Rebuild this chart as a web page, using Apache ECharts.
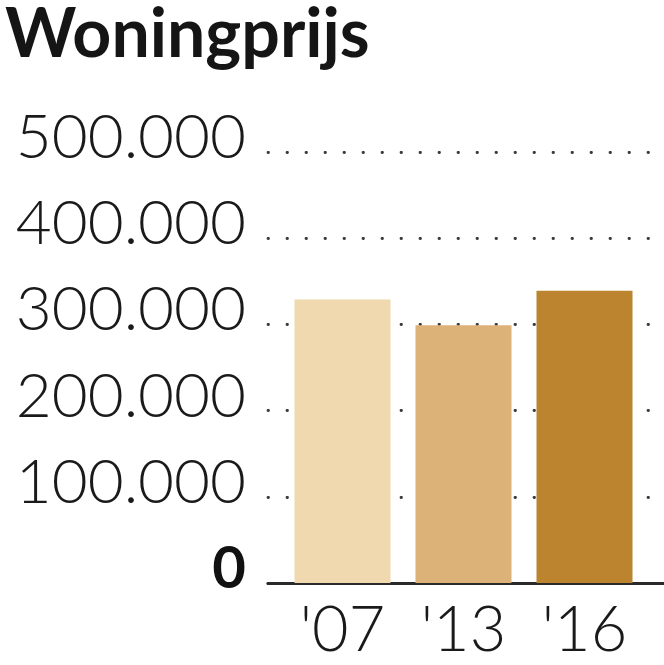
<!DOCTYPE html>
<html>
<head>
<meta charset="utf-8">
<script src="https://cdn.jsdelivr.net/npm/echarts@6/dist/echarts.min.js"></script>
<style>
  html, body { margin: 0; padding: 0; background: #fff; }
  #chart { width: 664px; height: 665px; }
</style>
</head>
<body>
<div id="chart"></div>
<script>
// data
const categories = ["'07", "'13", "'16"];
const prices = [329000, 299000, 339000];
const barColors = ['#f0d9ae', '#dcb278', '#bc842e'];
const yTicks = [0, 100000, 200000, 300000, 400000, 500000];

const yMax = yTicks[yTicks.length - 1];
const yStep = yTicks[1] - yTicks[0];
const font = 'Lato, "Open Sans", sans-serif';

const fmt = (v) => v === 0 ? '{z|0}' : String(v).replace(/\B(?=(\d{3})+(?!\d))/g, '.');

const chart = echarts.init(document.getElementById('chart'), null, { renderer: 'canvas' });

chart.setOption({
  animation: false,
  backgroundColor: '#fff',
  title: {
    text: 'Woningprijs',
    left: 0,
    top: -4,
    textStyle: { fontFamily: font, fontWeight: 'bold', fontSize: 68, color: '#151515' }
  },
  grid: [
    // wide grid: y labels, dotted lines, base line
    { left: 268, right: 0, top: 152, bottom: 82 },
    // bar grid
    { left: 282, right: 19, top: 152, bottom: 82 }
  ],
  xAxis: [
    {
      gridIndex: 0, type: 'value', min: 0, max: 1,
      axisLine: { show: true, lineStyle: { color: '#2a2a2a', width: 3 } },
      axisTick: { show: false }, axisLabel: { show: false }, splitLine: { show: false }
    },
    {
      gridIndex: 1, type: 'category', data: categories,
      axisLine: { show: false }, axisTick: { show: false },
      axisLabel: {
        margin: 16, fontFamily: font, fontWeight: 300, fontSize: 63, color: '#1a1a1a'
      }
    }
  ],
  yAxis: [
    {
      gridIndex: 0, type: 'value', min: 0, max: yMax, interval: yStep,
      axisLine: { show: false }, axisTick: { show: false },
      axisLabel: {
        margin: 22, fontFamily: font, fontWeight: 300, fontSize: 62, color: '#1a1a1a',
        padding: [0, 0, 28, 0],
        formatter: fmt,
        rich: { z: { fontFamily: font, fontWeight: 'bold', fontSize: 58, color: '#111' } }
      },
      splitLine: {
        show: true,
        lineStyle: { color: '#3a3a3a', width: 2.8, type: [0.5, 18.5], cap: 'round' }
      }
    },
    {
      gridIndex: 1, type: 'value', min: 0, max: yMax, interval: yStep, show: false
    }
  ],
  series: [{
    type: 'bar',
    xAxisIndex: 1,
    yAxisIndex: 1,
    barWidth: 96,
    data: prices.map((v, i) => ({ value: v, itemStyle: { color: barColors[i] } }))
  }]
});
</script>
</body>
</html>
